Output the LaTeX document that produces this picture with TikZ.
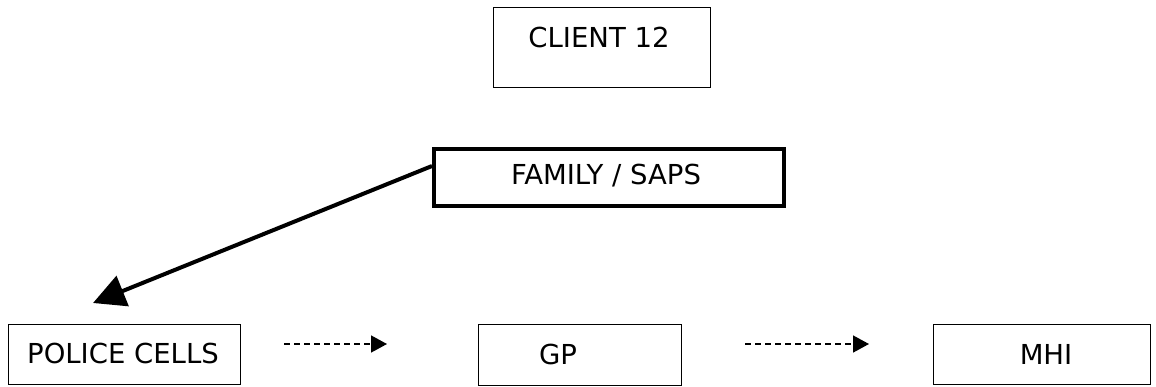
\documentclass[tikz,border=0pt]{standalone}
\usepackage{fontspec}
\setmainfont{DejaVu Sans}
\usetikzlibrary{arrows.meta,calc}
\begin{document}
\begin{tikzpicture}[x=1pt,y=-1pt,
  box/.style={draw=black,line width=1.3pt,inner sep=0pt,anchor=north west},
  thickbox/.style={draw=black,line width=4pt,inner sep=0pt,anchor=north west},
  lbl/.style={font=\fontsize{27.5}{32}\selectfont,inner sep=0pt},
  dasharrow/.style={line width=1.5pt,dash pattern=on 6pt off 4pt,-{Triangle[length=16pt,width=17pt]}},
  bigarrow/.style={line width=4pt,-{Triangle[length=32pt,width=32pt]}}]
\useasboundingbox (0,0) rectangle (1156,386);
% boxes
\node[box,minimum width=217pt,minimum height=80pt] (client) at (493,7) {};
\node[lbl] (clientt) at (599,37) {CLIENT 12};
\node[thickbox,minimum width=350pt,minimum height=57pt] (family) at (432,147) {};
\node[lbl] (familyt) at (606,176) {FAMILY / SAPS};
\node[box,minimum width=232pt,minimum height=60pt] (police) at (8,324) {};
\node[lbl] (policet) at (123,353) {POLICE CELLS};
\node[box,minimum width=203pt,minimum height=61pt] (gp) at (478,324) {};
\node[lbl] (gpt) at (558,354) {GP};
\node[box,minimum width=217pt,minimum height=60pt] (mhi) at (933,324) {};
\node[lbl] (mhit) at (1046,354) {MHI};
% connectors
\coordinate (tip) at (93,303);
\draw[bigarrow] (family.west |- 0,166) -- (tip);
\coordinate (a1s) at (284,344);
\coordinate (a1e) at (387,344);
\draw[dasharrow] (a1s) -- (a1e);
\coordinate (a2s) at (745,344);
\coordinate (a2e) at (869,344);
\draw[dasharrow] (a2s) -- (a2e);
\end{tikzpicture}
\end{document}
